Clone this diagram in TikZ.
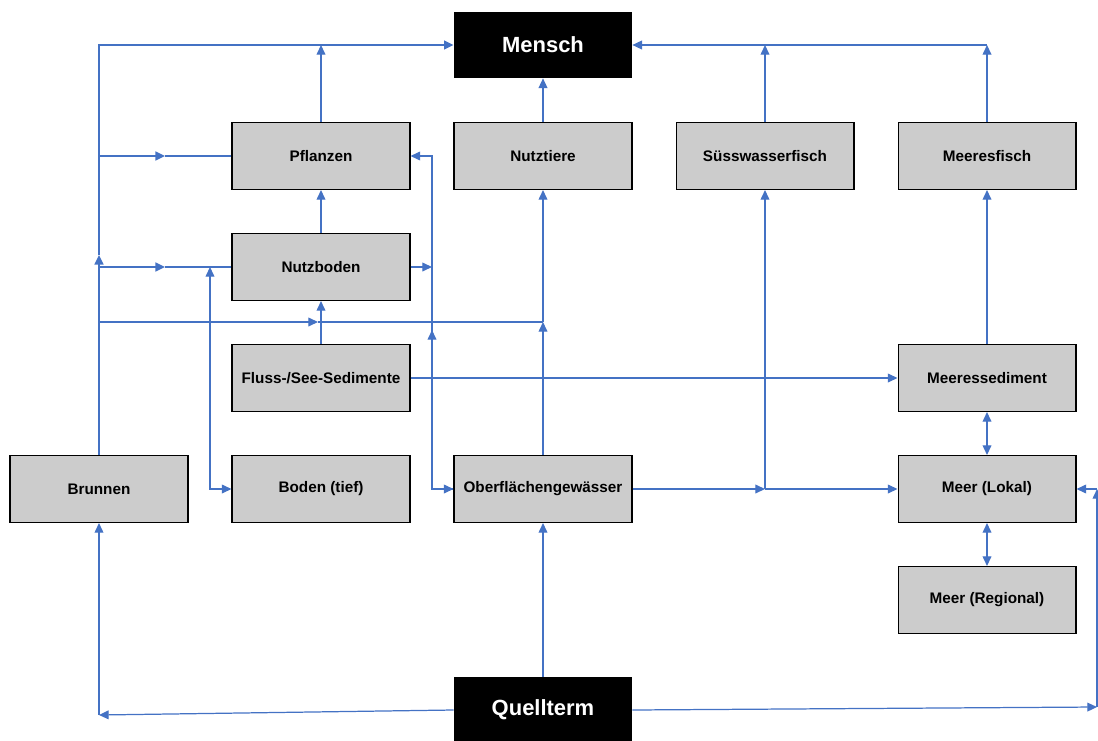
\documentclass[tikz,border=0pt]{standalone}
\usepackage{fontspec}
\setmainfont{Liberation Sans}
\usetikzlibrary{arrows.meta}
\definecolor{flowblue}{HTML}{4472C4}
\definecolor{boxgray}{HTML}{CCCCCC}
\tikzset{
  box/.style={draw=black, fill=boxgray, line width=0.6pt, minimum width=3.56cm, minimum height=1.34cm, inner sep=0pt, font=\bfseries\fontsize{8.7}{10}\selectfont},
  keybox/.style={fill=black, text=white, minimum width=3.56cm, minimum height=1.32cm, inner sep=0pt, font=\bfseries\fontsize{12.5}{14}\selectfont},
  flow/.style={draw=flowblue, line width=0.7pt, line join=miter},
  flowthick/.style={flow, line width=1.2pt},
  tip/.style={-{Triangle[length=5.5pt,width=5pt]}},
  tips/.style={{Triangle[length=5.5pt,width=5pt]}-{Triangle[length=5.5pt,width=5pt]}},
}

\begin{document}
\begin{tikzpicture}[x=0.02cm, y=-0.02cm]
  \useasboundingbox (0,0) rectangle (1098,740);
  % compartments
  \node[keybox] (mensch) at (543,45) {Mensch};
  \node[box] (pflanzen) at (321,156) {Pflanzen};
  \node[box] (nutztiere) at (543,156) {Nutztiere};
  \node[box] (suess) at (765,156) {Süsswasserfisch};
  \node[box] (meeresfisch) at (987,156) {Meeresfisch};
  \node[box] (nutzboden) at (321,267) {Nutzboden};
  \node[box] (sedimente) at (321,378) {Fluss-/See-Sedimente};
  \node[box] (meeressed) at (987,378) {Meeressediment};
  \node[box] (brunnen) at (99,489) {Brunnen};
  \node[box] (bodentief) at (321,489) {Boden (tief)};
  \node[box] (oberfl) at (543,489) {Oberflächengewässer};
  \node[box] (meerlokal) at (987,489) {Meer (Lokal)};
  \node[box] (meerregional) at (987,600) {Meer (Regional)};
  \node[keybox] (quellterm) at (543,710) {Quellterm};

  % junctions
  \coordinate (bmid) at (99,255);
  \coordinate (w1) at (99,156);
  \coordinate (w2) at (99,267);
  \coordinate (w3) at (99,322);
  \coordinate (a1) at (165,156);
  \coordinate (a2) at (165,267);
  \coordinate (a3) at (318,322);
  \coordinate (n3) at (543,322);
  \coordinate (b1) at (210,267);
  \coordinate (k1) at (432,267);
  \coordinate (k2) at (432,330);
  \coordinate (s1) at (765,489);
  \coordinate (f1) at (765,45);
  \coordinate (f2) at (987,45);
  \coordinate (q1) at (99,715);
  \coordinate (q2) at (1097,707);
  \coordinate (q3) at (1097,489);

  % Brunnen pathways
  \draw[flowthick,tip] (brunnen.north) -- (bmid);
  \draw[flowthick,tip] (bmid) |- (mensch.west);
  \draw[flowthick,tip] (w1) -- (a1);
  \draw[flow] (a1) -- (pflanzen.west);
  \draw[flowthick,tip] (w2) -- (a2);
  \draw[flow] (a2) -- (nutzboden.west);
  \draw[flow,tip] (w3) -- (a3);
  \draw[flow] (a3) -- (n3);
  \draw[flow,tips] (b1) |- (bodentief.west);

  % soil and plants
  \draw[flow,tip] (pflanzen.north) -- (pflanzen.north |- mensch.west);
  \draw[flow,tip] (nutzboden.north) -- (pflanzen.south);
  \draw[flow,tip] (sedimente.north) -- (nutzboden.south);
  \draw[flow,tip] (nutzboden.east) -- (k1);
  \draw[flow,tip] (oberfl.west) -| (k2);
  \draw[flow,tip] (k2) |- (oberfl.west);
  \draw[flow,tip] (k2) |- (pflanzen.east);

  % surface water
  \draw[flow,tip] (nutztiere.north) -- (mensch.south);
  \draw[flow,tip] (oberfl.north) -- (n3);
  \draw[flow,tip] (n3) -- (nutztiere.south);
  \draw[flow,tip] (oberfl.east) -- (s1);
  \draw[flow,tip] (s1) -- (meerlokal.west);
  \draw[flow,tip] (s1) -- (suess.south);
  \draw[flow,tip] (sedimente.east) -- (meeressed.west);

  % sea
  \draw[flow,tip] (meeressed.north) -- (meeresfisch.south);
  \draw[flow,tips] (meeressed.south) -- (meerlokal.north);
  \draw[flow,tips] (meerlokal.south) -- (meerregional.north);
  \draw[flow,tip] (suess.north) -- (f1);
  \draw[flow,tip] (meeresfisch.north) -- (f2);
  \draw[flow,tip] (f2) -- (mensch.east);

  % source term
  \draw[flow,tip] (quellterm.north) -- (oberfl.south);
  \draw[flow,tip] (quellterm.west) -- (q1);
  \draw[flow,tip] (q1) -- (brunnen.south);
  \draw[flow,tip] (quellterm.east) -- (q2);
  \draw[flow,tip] (q2) -- (q3);
  \draw[flow,tip] (q3) -- (meerlokal.east);
\end{tikzpicture}
\end{document}
